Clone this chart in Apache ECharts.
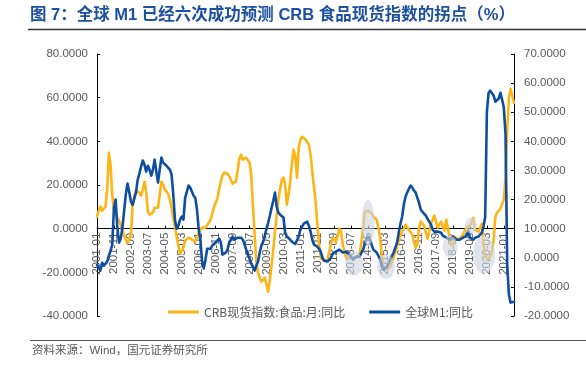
<!DOCTYPE html>
<html><head><meta charset="utf-8">
<script src="https://cdn.jsdelivr.net/npm/echarts@6/dist/echarts.min.js"></script>
<style>html,body{margin:0;padding:0;background:#fff}#c{width:586px;height:366px}</style>
</head><body><div id="c"></div>
<script>
// monthly categories 2001-01 .. 2021-07
const startYear = 2001;
const monthCount = 247;
const categories = [];
for (let i = 0; i < monthCount; i++) {
  const y = startYear + Math.floor(i / 12), m = i % 12 + 1;
  categories.push(y + '-' + (m < 10 ? '0' : '') + m);
}

// CRB现货指数:食品:月:同比 (left axis)
const crbFood = [
5.5, 8.2, 10.1, 8.2, 8.2, 10.1, 17.9, 34.8, 29.3, 15.6,
7.8, 6.4, 5.0, 3.7, 1.8, -0.5, -3.2, -5, -6.4, -6,
-3.2, 10.5, 15.1, 17.4, 17.9, 16.5, 15.1, 17.9, 21.5, 17,
7.8, 6.4, 5.5, 7.3, 9.6, 10.1, 9.6, 15.6, 21.5, 20.2,
17.9, 17, 16, 13.3, 9.6, 5.0, 0.9, -3.7, -7.8, -11.5,
-11.9, -8.7, -5.5, -4.6, -4.1, -4.1, -5, -5.5, -6, -4.1,
-1.8, -0.5, 0.5, 0.5, 0.5, 1.4, 2.7, 4.1, 6.9, 9.6,
11.9, 13.7, 17.9, 21.5, 24.3, 25.7, 26.1, 25.2, 23.8, 22.4,
20.6, 20.6, 21.5, 27, 32.1, 33.9, 31.6, 31.1, 32.5, 32.1,
30.2, 24.7, 10.1, -2.7, -15.1, -20.2, -22.4, -24.3, -23.4, -22.4,
-25.7, -28.9, -23.4, -16.5, -9.6, -1.4, 6, 13.3, 17.9, 22.4,
23.4, 20.2, 11, 15.6, 21.5, 30.2, 36.2, 33, 23.4, 37.1,
40.8, 42.1, 41.2, 40.8, 41.7, 38.5, 33.9, 26.1, 19.2, 11.9,
1.8, -7.3, -13.3, -14.2, -14.7, -15.1, -14.2, -10.5, -7.3, -4.1,
-4.6, -6, -3.2, 0, -1.4, -7.3, -10.5, -13.3, -13.7, -12.8,
-13.3, -14.2, -13.7, -13.3, -12.4, -11, -6, 0.5, 7.8, 8.7,
8.2, 7.8, 6.9, 5.5, 5, 4.1, 0.5, -4.1, -11.9, -17.4,
-18.3, -18.8, -18.3, -17.4, -15.1, -13.3, -10.5, -8.2, -5.5, -3.2,
-1.4, 0, 1.8, 1.8, -0.5, 0, -2.7, -6.4, -8.7, -7.3,
0.5, 3.2, 4.1, 1.4, -1.8, -4.6, -1.4, 2.3, 4.1, 6,
6.9, 0.5, 1.4, 3.2, 4.1, -0.9, 4.1, 0.5, -5, -7.8,
-6, -3.7, -4.6, -5, -4.1, -3.7, -2.7, -0.9, 0.5, 0.9,
1.4, 1.8, 5, -0.5, -1.4, -1.4, 0.5, 2.3, -7.3, -11.9,
-14.2, -13.3, -12.8, -10.5, -5, 5.5, 7.3, 8.2, 9.2, 10.1,
13.3, 23.4, 45.4, 60, 64.1, 63.7, 57.7
];

// 全球M1:同比 (right axis)
const globalM1 = [
-2.4, -3.4, -4.4, -1.7, -2.7, -2.0, -1.3, 0.7, 2.4, 4.5,
17.2, 20, 10.3, 5.2, 6.6, 10.3, 16.2, 21.7, 25.5, 22.7,
19.3, 18.2, 20.3, 22.4, 26.8, 28.9, 31.3, 33.4, 32, 29.6,
31.6, 30.3, 28.2, 30.3, 33.7, 29.6, 25.8, 30.3, 34.4, 32.7,
32.7, 31.6, 31, 30.3, 28.6, 21.7, 13.1, 10, 11, 13.1,
14.1, 13.1, 20.6, 21, 24.8, 24.1, 24.4, 21.3, 20.6, 16.5,
9.7, 6.2, -1.3, -3.7, -0.6, 3.1, 2.8, 3.1, 4.2, 4.8,
5.2, 5.5, 6.6, 5.5, 1.1, 0.7, 1.8, 2.8, 5.2, 6.2,
7.3, 6.2, 6.2, 6.9, 6.9, 6.9, 6.2, 4.8, 2.8, 1.1,
-0.3, -2, -3.1, -4.4, -2.7, -1.3, 1.8, 4.2, 5.5, 7.6,
10, 12.1, 14.5, 17.2, 19.6, 22.4, 17.6, 15.5, 14.8, 14.5,
13.8, 8.6, 7.3, 6.9, 6.2, 5.5, 5.2, 4.8, 4.5, 7.3,
9.7, 10.7, 11.7, 12.1, 12.4, 11, 9, 6.2, 4.5, 4.2,
3.8, 3.1, 2.1, 0, -1, -1.3, -1.3, -1, 0, 1.4,
1.8, 2.1, 2.4, 2.8, 2.4, 1.8, 2.1, 2.1, 1.8, 1.1,
0.7, -0.6, 0, 0.4, 0.4, 0.4, 1.8, 2.8, 4.8, 6.6,
7.3, 6.2, 4.5, 2.8, 2.4, 1.8, 0.7, -0.6, -2.4, -4.1,
-3.7, -3.1, -2, -0.6, 0.7, 1.8, 3.5, 5.2, 8.6, 11.7,
14.1, 18.2, 21, 22.4, 23.7, 24.8, 24.1, 23.1, 22.4, 20.6,
18.9, 16.5, 15.8, 15.2, 14.5, 13.4, 12.4, 11.4, 9.7, 9,
8.6, 9, 9.3, 8.6, 7.6, 7.3, 6.9, 6.9, 6.2, 6.6,
7.3, 6.9, 6.2, 6.2, 6.2, 6.6, 6.9, 7.3, 7.6, 9.3,
6.9, 6.6, 6.2, 6.9, 7.3, 7.3, 7.3, 8.6, 10.7, 14,
50, 56.7, 57.4, 57.7, 55.7, 53.6, 53.6, 54.7, 56.7, 54.3,
51.6, 42.3, -2.4, -12.7, -15.4, -15.4, -15.1
];

// highlighted turning points: [month index, left-axis value, half width (months), half height (left units)]
const highlights = [
  [151.6, -16, 5.3, 5.5],
  [159.9, 2.7, 3.8, 10.5],
  [170.5, -17.4, 5.3, 5.5],
  [208.3, -8.2, 4.4, 5],
  [220.6, 1.4, 3.5, 3.7],
  [228.3, -11.9, 6.5, 8.7]
];

const leftAxis = {min: -40, max: 80, interval: 20};
const rightAxis = {min: -20, max: 70, interval: 10};
const seriesNames = ['CRB现货指数:食品:月:同比', '全球M1:同比'];
const titleText = '图 7：全球 M1 已经六次成功预测 CRB 食品现货指数的拐点（%）';
const sourceText = '资料来源：Wind，国元证券研究所';

const labelColor = '#595959';
const numFont = "'Liberation Sans', Arial, sans-serif";
const cjkFont = "'Liberation Sans', 'Noto Sans CJK SC', sans-serif";

const gridTop = 54, gridBottom = 50, chartH = 366;
const plotH = chartH - gridTop - gridBottom;
// place category axis at the left axis zero
const zeroOffset = -plotH * (0 - leftAxis.min) / (leftAxis.max - leftAxis.min);

const chart = echarts.init(document.getElementById('c'), null, {renderer: 'canvas'});
chart.setOption({
  animation: false,
  backgroundColor: '#fff',
  grid: {left: 97, right: 72, top: gridTop, bottom: gridBottom, containLabel: false},
  graphic: [
    {type: 'text', left: 30, top: 7, style: {text: titleText, font: "bold 16.5px " + cjkFont, fill: '#1E50A0'}},
    {type: 'line', shape: {x1: 28, y1: 29.5, x2: 586, y2: 29.5}, style: {stroke: '#333', lineWidth: 1.5}},
    {type: 'line', shape: {x1: 30, y1: 340.5, x2: 586, y2: 340.5}, style: {stroke: '#555', lineWidth: 1.2}},
    {type: 'text', left: 32, top: 345, style: {text: sourceText, font: "11.5px " + cjkFont, fill: labelColor}}
  ],
  legend: {
    left: 163, top: 301, icon: 'rect', itemWidth: 31, itemHeight: 3, itemGap: 24,
    data: seriesNames,
    textStyle: {color: labelColor, fontSize: 12, fontFamily: "'Noto Sans CJK SC', sans-serif"}
  },
  xAxis: [{
    type: 'category', data: categories, boundaryGap: false, position: 'bottom', offset: zeroOffset,
    axisLine: {onZero: false, lineStyle: {color: '#000', width: 1}},
    axisTick: {inside: true, length: 3, interval: 9, lineStyle: {color: '#000'}},
    axisLabel: {rotate: 90, interval: 9, color: labelColor, fontSize: 11.5, fontFamily: numFont, margin: 4},
    splitLine: {show: false}
  }, {
    type: 'value', min: 0, max: monthCount - 1, show: false
  }],
  yAxis: [{
    type: 'value', min: leftAxis.min, max: leftAxis.max, interval: leftAxis.interval,
    axisLine: {show: true, lineStyle: {color: '#000'}},
    axisTick: {show: true, inside: true, length: 3, lineStyle: {color: '#000'}},
    axisLabel: {formatter: v => v.toFixed(4), color: labelColor, fontSize: 11.5, fontFamily: numFont, margin: 9},
    splitLine: {show: false}
  }, {
    type: 'value', position: 'right', min: rightAxis.min, max: rightAxis.max, interval: rightAxis.interval,
    axisLine: {show: true, lineStyle: {color: '#000'}},
    axisTick: {show: true, inside: true, length: 3, lineStyle: {color: '#000'}},
    axisLabel: {formatter: v => v.toFixed(4), color: labelColor, fontSize: 11.5, fontFamily: numFont, margin: 10},
    splitLine: {show: false}
  }],
  series: [{
    name: seriesNames[0], type: 'line', data: crbFood, yAxisIndex: 0, showSymbol: false,
    lineStyle: {color: '#FDB515', width: 2.6, cap: 'round', join: 'round'}, itemStyle: {color: '#FDB515'}, z: 2
  }, {
    name: seriesNames[1], type: 'line', data: globalM1, yAxisIndex: 1, showSymbol: false,
    lineStyle: {color: '#0D4EA2', width: 2.6, cap: 'round', join: 'round'}, itemStyle: {color: '#0D4EA2'}, z: 3
  }, {
    type: 'custom', xAxisIndex: 1, yAxisIndex: 0, data: highlights, z: 4, silent: true,
    encode: {x: 0, y: 1},
    renderItem: function (params, api) {
      const c = api.coord([api.value(0), api.value(1)]);
      const e = api.coord([api.value(0) + api.value(2), api.value(1) + api.value(3)]);
      const rx = Math.abs(e[0] - c[0]), ry = Math.abs(e[1] - c[1]);
      return {type: 'circle', x: c[0], y: c[1], scaleX: rx / ry, scaleY: 1,
        shape: {cx: 0, cy: 0, r: ry}, style: {fill: 'rgba(205,212,224,0.62)'}};
    }
  }]
});
</script></body></html>
